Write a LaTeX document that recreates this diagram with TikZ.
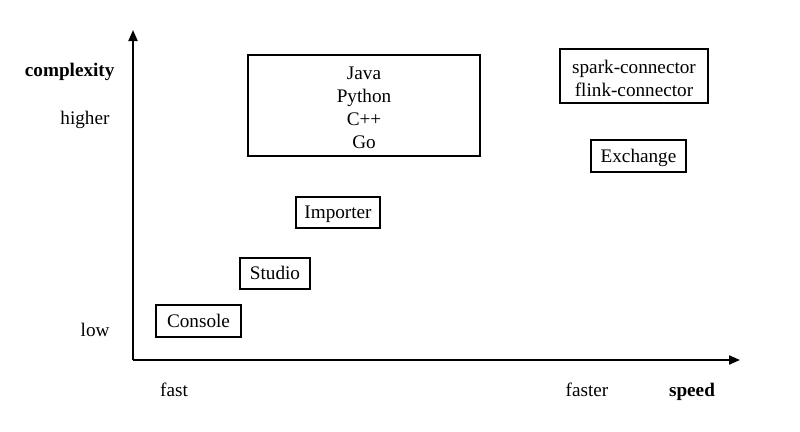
\documentclass[tikz,border=0pt]{standalone}
\usepackage{fontspec}
\setmainfont{Liberation Serif}
\usetikzlibrary{arrows.meta}
\begin{document}
\begin{tikzpicture}[x=1pt,y=-1pt,font=\fontsize{19.2}{23}\selectfont]

      \useasboundingbox (0,0) rectangle (800,431);

      \coordinate (origin) at (133,360);
      \coordinate (ytop)   at (133,30);
      \coordinate (xend)   at (740,360);
      \draw[line width=2pt,-{Triangle[length=11pt,width=9pt]}] (origin) -- (ytop);
      \draw[line width=2pt,-{Triangle[length=11pt,width=9pt]}] (origin) -- (xend);

      \begin{scope}[every node/.style={anchor=east,text height=12.6pt,text depth=0pt}]
        \node (complexity) at (118,70)  {\textbf{complexity}};
        \node (higher)     at (113,118) {higher};
        \node (low)        at (113,330) {low};
      \end{scope}

      \begin{scope}[every node/.style={anchor=center,text height=12.6pt,text depth=0pt}]
        \node (fast)   at (174,390) {fast};
        \node (faster) at (587,390) {faster};
        \node (speed)  at (692,390) {\textbf{speed}};
      \end{scope}

      \begin{scope}[every node/.style={draw,line width=1.2pt,align=center,inner sep=0pt}]
        \node[minimum width=232,minimum height=101] (lang) at (364,105.5) {};
        \node[minimum width=148,minimum height=54]  (conn) at (634,76)    {};
        \node[draw=none,yshift=-2pt] at (lang.center) {Java\\Python\\C++\\Go};
        \node[draw=none,yshift=-2pt] at (conn.center) {spark-connector\\flink-connector};
      \end{scope}

      \begin{scope}[every node/.style={draw,line width=1.2pt,inner sep=0pt,text height=12.6pt,text depth=0pt}]
        \node[minimum width=95,minimum height=32] (exchange) at (638.5,156) {Exchange};
        \node[minimum width=84,minimum height=31] (importer) at (338,212.5) {Importer};
        \node[minimum width=70,minimum height=31] (studio)   at (275,273.5) {Studio};
        \node[minimum width=85,minimum height=32] (console)  at (198.5,321) {Console};
      \end{scope}

    \end{tikzpicture}
\end{document}
